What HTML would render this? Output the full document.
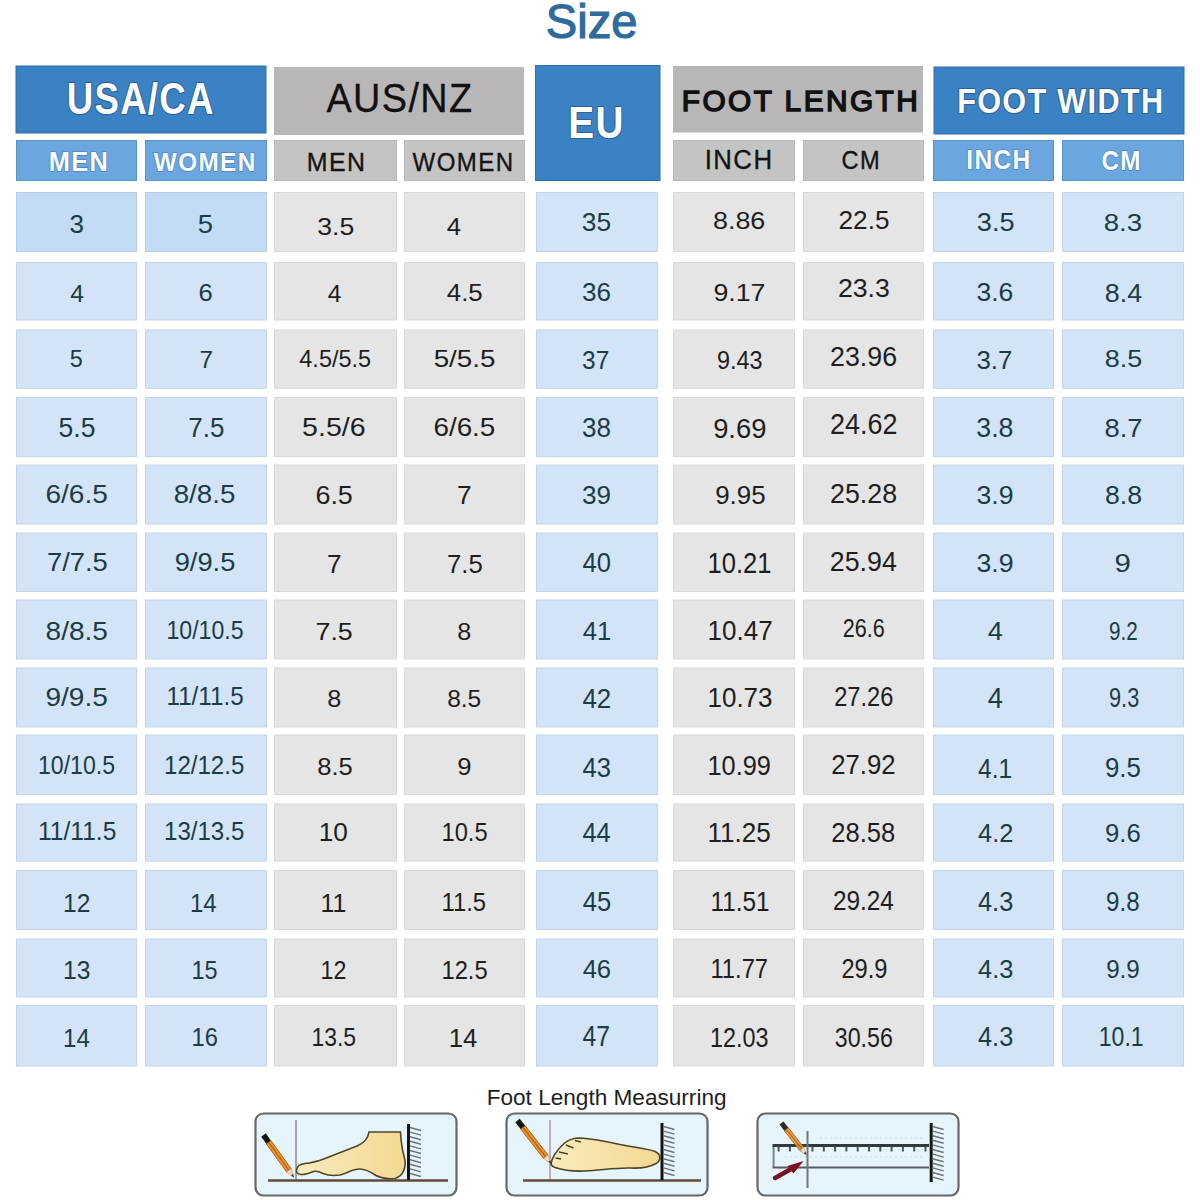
<!DOCTYPE html>
<html><head><meta charset="utf-8"><title>Size chart</title><style>
html,body{margin:0;padding:0;background:#fff;}
body{width:1200px;height:1200px;overflow:hidden;}
svg{display:block;font-family:"Liberation Sans", sans-serif;}
</style></head><body>
<svg width="1200" height="1200" viewBox="0 0 1200 1200">
<rect x="16" y="66" width="250.00" height="67.00" fill="#3b82c4" stroke="#306fa8" stroke-width="1"/>
<rect x="274" y="67" width="250.00" height="68.00" fill="#b8b6b7"/>
<rect x="535.5" y="65.5" width="124.50" height="115.00" fill="#3b82c4" stroke="#306fa8" stroke-width="1"/>
<rect x="673" y="66" width="250.00" height="66.50" fill="#b8b6b7"/>
<rect x="934" y="67" width="250.00" height="67.00" fill="#3b82c4" stroke="#306fa8" stroke-width="1"/>
<rect x="16.5" y="140.5" width="120.00" height="40" fill="#6aa6df" stroke="#5d92c6" stroke-width="1"/>
<rect x="145.5" y="140.5" width="121.00" height="40" fill="#6aa6df" stroke="#5d92c6" stroke-width="1"/>
<rect x="274.5" y="140.5" width="122.00" height="40" fill="#c4c4c4" stroke="#b8b8b8" stroke-width="1"/>
<rect x="404.5" y="140.5" width="120.00" height="40" fill="#c4c4c4" stroke="#b8b8b8" stroke-width="1"/>
<rect x="673.5" y="140.5" width="121.00" height="40" fill="#c4c4c4" stroke="#b8b8b8" stroke-width="1"/>
<rect x="803.5" y="140.5" width="120.00" height="40" fill="#c4c4c4" stroke="#b8b8b8" stroke-width="1"/>
<rect x="933.5" y="140.5" width="120.00" height="40" fill="#6aa6df" stroke="#5d92c6" stroke-width="1"/>
<rect x="1062.5" y="140.5" width="121.00" height="40" fill="#6aa6df" stroke="#5d92c6" stroke-width="1"/>
<rect x="16.5" y="192.5" width="120.00" height="59.00" fill="#c3dcf5" stroke="#b9cde2" stroke-width="1"/>
<rect x="145.5" y="192.5" width="121.00" height="59.00" fill="#c3dcf5" stroke="#b9cde2" stroke-width="1"/>
<rect x="274.5" y="192.5" width="122.00" height="59.00" fill="#e5e5e5" stroke="#d9d9d9" stroke-width="1"/>
<rect x="404.5" y="192.5" width="120.00" height="59.00" fill="#e5e5e5" stroke="#d9d9d9" stroke-width="1"/>
<rect x="536.5" y="192.5" width="121.00" height="59.00" fill="#d4e4f8" stroke="#c3d4e6" stroke-width="1"/>
<rect x="673.5" y="192.5" width="121.00" height="59.00" fill="#e5e5e5" stroke="#d9d9d9" stroke-width="1"/>
<rect x="803.5" y="192.5" width="120.00" height="59.00" fill="#e5e5e5" stroke="#d9d9d9" stroke-width="1"/>
<rect x="933.5" y="192.5" width="120.00" height="59.00" fill="#d4e4f8" stroke="#c3d4e6" stroke-width="1"/>
<rect x="1062.5" y="192.5" width="121.00" height="59.00" fill="#d4e4f8" stroke="#c3d4e6" stroke-width="1"/>
<rect x="16.5" y="262.5" width="120.00" height="57.50" fill="#d4e4f8" stroke="#c3d4e6" stroke-width="1"/>
<rect x="145.5" y="262.5" width="121.00" height="57.50" fill="#d4e4f8" stroke="#c3d4e6" stroke-width="1"/>
<rect x="274.5" y="262.5" width="122.00" height="57.50" fill="#e5e5e5" stroke="#d9d9d9" stroke-width="1"/>
<rect x="404.5" y="262.5" width="120.00" height="57.50" fill="#e5e5e5" stroke="#d9d9d9" stroke-width="1"/>
<rect x="536.5" y="262.5" width="121.00" height="57.50" fill="#d4e4f8" stroke="#c3d4e6" stroke-width="1"/>
<rect x="673.5" y="262.5" width="121.00" height="57.50" fill="#e5e5e5" stroke="#d9d9d9" stroke-width="1"/>
<rect x="803.5" y="262.5" width="120.00" height="57.50" fill="#e5e5e5" stroke="#d9d9d9" stroke-width="1"/>
<rect x="933.5" y="262.5" width="120.00" height="57.50" fill="#d4e4f8" stroke="#c3d4e6" stroke-width="1"/>
<rect x="1062.5" y="262.5" width="121.00" height="57.50" fill="#d4e4f8" stroke="#c3d4e6" stroke-width="1"/>
<rect x="16.5" y="330.0" width="120.00" height="58.25" fill="#d4e4f8" stroke="#c3d4e6" stroke-width="1"/>
<rect x="145.5" y="330.0" width="121.00" height="58.25" fill="#d4e4f8" stroke="#c3d4e6" stroke-width="1"/>
<rect x="274.5" y="330.0" width="122.00" height="58.25" fill="#e5e5e5" stroke="#d9d9d9" stroke-width="1"/>
<rect x="404.5" y="330.0" width="120.00" height="58.25" fill="#e5e5e5" stroke="#d9d9d9" stroke-width="1"/>
<rect x="536.5" y="330.0" width="121.00" height="58.25" fill="#d4e4f8" stroke="#c3d4e6" stroke-width="1"/>
<rect x="673.5" y="330.0" width="121.00" height="58.25" fill="#e5e5e5" stroke="#d9d9d9" stroke-width="1"/>
<rect x="803.5" y="330.0" width="120.00" height="58.25" fill="#e5e5e5" stroke="#d9d9d9" stroke-width="1"/>
<rect x="933.5" y="330.0" width="120.00" height="58.25" fill="#d4e4f8" stroke="#c3d4e6" stroke-width="1"/>
<rect x="1062.5" y="330.0" width="121.00" height="58.25" fill="#d4e4f8" stroke="#c3d4e6" stroke-width="1"/>
<rect x="16.5" y="397.5" width="120.00" height="59.00" fill="#d4e4f8" stroke="#c3d4e6" stroke-width="1"/>
<rect x="145.5" y="397.5" width="121.00" height="59.00" fill="#d4e4f8" stroke="#c3d4e6" stroke-width="1"/>
<rect x="274.5" y="397.5" width="122.00" height="59.00" fill="#e5e5e5" stroke="#d9d9d9" stroke-width="1"/>
<rect x="404.5" y="397.5" width="120.00" height="59.00" fill="#e5e5e5" stroke="#d9d9d9" stroke-width="1"/>
<rect x="536.5" y="397.5" width="121.00" height="59.00" fill="#d4e4f8" stroke="#c3d4e6" stroke-width="1"/>
<rect x="673.5" y="397.5" width="121.00" height="59.00" fill="#e5e5e5" stroke="#d9d9d9" stroke-width="1"/>
<rect x="803.5" y="397.5" width="120.00" height="59.00" fill="#e5e5e5" stroke="#d9d9d9" stroke-width="1"/>
<rect x="933.5" y="397.5" width="120.00" height="59.00" fill="#d4e4f8" stroke="#c3d4e6" stroke-width="1"/>
<rect x="1062.5" y="397.5" width="121.00" height="59.00" fill="#d4e4f8" stroke="#c3d4e6" stroke-width="1"/>
<rect x="16.5" y="465.0" width="120.00" height="59.00" fill="#d4e4f8" stroke="#c3d4e6" stroke-width="1"/>
<rect x="145.5" y="465.0" width="121.00" height="59.00" fill="#d4e4f8" stroke="#c3d4e6" stroke-width="1"/>
<rect x="274.5" y="465.0" width="122.00" height="59.00" fill="#e5e5e5" stroke="#d9d9d9" stroke-width="1"/>
<rect x="404.5" y="465.0" width="120.00" height="59.00" fill="#e5e5e5" stroke="#d9d9d9" stroke-width="1"/>
<rect x="536.5" y="465.0" width="121.00" height="59.00" fill="#d4e4f8" stroke="#c3d4e6" stroke-width="1"/>
<rect x="673.5" y="465.0" width="121.00" height="59.00" fill="#e5e5e5" stroke="#d9d9d9" stroke-width="1"/>
<rect x="803.5" y="465.0" width="120.00" height="59.00" fill="#e5e5e5" stroke="#d9d9d9" stroke-width="1"/>
<rect x="933.5" y="465.0" width="120.00" height="59.00" fill="#d4e4f8" stroke="#c3d4e6" stroke-width="1"/>
<rect x="1062.5" y="465.0" width="121.00" height="59.00" fill="#d4e4f8" stroke="#c3d4e6" stroke-width="1"/>
<rect x="16.5" y="533.0" width="120.00" height="58.50" fill="#d4e4f8" stroke="#c3d4e6" stroke-width="1"/>
<rect x="145.5" y="533.0" width="121.00" height="58.50" fill="#d4e4f8" stroke="#c3d4e6" stroke-width="1"/>
<rect x="274.5" y="533.0" width="122.00" height="58.50" fill="#e5e5e5" stroke="#d9d9d9" stroke-width="1"/>
<rect x="404.5" y="533.0" width="120.00" height="58.50" fill="#e5e5e5" stroke="#d9d9d9" stroke-width="1"/>
<rect x="536.5" y="533.0" width="121.00" height="58.50" fill="#d4e4f8" stroke="#c3d4e6" stroke-width="1"/>
<rect x="673.5" y="533.0" width="121.00" height="58.50" fill="#e5e5e5" stroke="#d9d9d9" stroke-width="1"/>
<rect x="803.5" y="533.0" width="120.00" height="58.50" fill="#e5e5e5" stroke="#d9d9d9" stroke-width="1"/>
<rect x="933.5" y="533.0" width="120.00" height="58.50" fill="#d4e4f8" stroke="#c3d4e6" stroke-width="1"/>
<rect x="1062.5" y="533.0" width="121.00" height="58.50" fill="#d4e4f8" stroke="#c3d4e6" stroke-width="1"/>
<rect x="16.5" y="600.0" width="120.00" height="59.00" fill="#d4e4f8" stroke="#c3d4e6" stroke-width="1"/>
<rect x="145.5" y="600.0" width="121.00" height="59.00" fill="#d4e4f8" stroke="#c3d4e6" stroke-width="1"/>
<rect x="274.5" y="600.0" width="122.00" height="59.00" fill="#e5e5e5" stroke="#d9d9d9" stroke-width="1"/>
<rect x="404.5" y="600.0" width="120.00" height="59.00" fill="#e5e5e5" stroke="#d9d9d9" stroke-width="1"/>
<rect x="536.5" y="600.0" width="121.00" height="59.00" fill="#d4e4f8" stroke="#c3d4e6" stroke-width="1"/>
<rect x="673.5" y="600.0" width="121.00" height="59.00" fill="#e5e5e5" stroke="#d9d9d9" stroke-width="1"/>
<rect x="803.5" y="600.0" width="120.00" height="59.00" fill="#e5e5e5" stroke="#d9d9d9" stroke-width="1"/>
<rect x="933.5" y="600.0" width="120.00" height="59.00" fill="#d4e4f8" stroke="#c3d4e6" stroke-width="1"/>
<rect x="1062.5" y="600.0" width="121.00" height="59.00" fill="#d4e4f8" stroke="#c3d4e6" stroke-width="1"/>
<rect x="16.5" y="668.0" width="120.00" height="59.00" fill="#d4e4f8" stroke="#c3d4e6" stroke-width="1"/>
<rect x="145.5" y="668.0" width="121.00" height="59.00" fill="#d4e4f8" stroke="#c3d4e6" stroke-width="1"/>
<rect x="274.5" y="668.0" width="122.00" height="59.00" fill="#e5e5e5" stroke="#d9d9d9" stroke-width="1"/>
<rect x="404.5" y="668.0" width="120.00" height="59.00" fill="#e5e5e5" stroke="#d9d9d9" stroke-width="1"/>
<rect x="536.5" y="668.0" width="121.00" height="59.00" fill="#d4e4f8" stroke="#c3d4e6" stroke-width="1"/>
<rect x="673.5" y="668.0" width="121.00" height="59.00" fill="#e5e5e5" stroke="#d9d9d9" stroke-width="1"/>
<rect x="803.5" y="668.0" width="120.00" height="59.00" fill="#e5e5e5" stroke="#d9d9d9" stroke-width="1"/>
<rect x="933.5" y="668.0" width="120.00" height="59.00" fill="#d4e4f8" stroke="#c3d4e6" stroke-width="1"/>
<rect x="1062.5" y="668.0" width="121.00" height="59.00" fill="#d4e4f8" stroke="#c3d4e6" stroke-width="1"/>
<rect x="16.5" y="735.0" width="120.00" height="59.50" fill="#d4e4f8" stroke="#c3d4e6" stroke-width="1"/>
<rect x="145.5" y="735.0" width="121.00" height="59.50" fill="#d4e4f8" stroke="#c3d4e6" stroke-width="1"/>
<rect x="274.5" y="735.0" width="122.00" height="59.50" fill="#e5e5e5" stroke="#d9d9d9" stroke-width="1"/>
<rect x="404.5" y="735.0" width="120.00" height="59.50" fill="#e5e5e5" stroke="#d9d9d9" stroke-width="1"/>
<rect x="536.5" y="735.0" width="121.00" height="59.50" fill="#d4e4f8" stroke="#c3d4e6" stroke-width="1"/>
<rect x="673.5" y="735.0" width="121.00" height="59.50" fill="#e5e5e5" stroke="#d9d9d9" stroke-width="1"/>
<rect x="803.5" y="735.0" width="120.00" height="59.50" fill="#e5e5e5" stroke="#d9d9d9" stroke-width="1"/>
<rect x="933.5" y="735.0" width="120.00" height="59.50" fill="#d4e4f8" stroke="#c3d4e6" stroke-width="1"/>
<rect x="1062.5" y="735.0" width="121.00" height="59.50" fill="#d4e4f8" stroke="#c3d4e6" stroke-width="1"/>
<rect x="16.5" y="804.0" width="120.00" height="57.10" fill="#d4e4f8" stroke="#c3d4e6" stroke-width="1"/>
<rect x="145.5" y="804.0" width="121.00" height="57.10" fill="#d4e4f8" stroke="#c3d4e6" stroke-width="1"/>
<rect x="274.5" y="804.0" width="122.00" height="57.10" fill="#e5e5e5" stroke="#d9d9d9" stroke-width="1"/>
<rect x="404.5" y="804.0" width="120.00" height="57.10" fill="#e5e5e5" stroke="#d9d9d9" stroke-width="1"/>
<rect x="536.5" y="804.0" width="121.00" height="57.10" fill="#d4e4f8" stroke="#c3d4e6" stroke-width="1"/>
<rect x="673.5" y="804.0" width="121.00" height="57.10" fill="#e5e5e5" stroke="#d9d9d9" stroke-width="1"/>
<rect x="803.5" y="804.0" width="120.00" height="57.10" fill="#e5e5e5" stroke="#d9d9d9" stroke-width="1"/>
<rect x="933.5" y="804.0" width="120.00" height="57.10" fill="#d4e4f8" stroke="#c3d4e6" stroke-width="1"/>
<rect x="1062.5" y="804.0" width="121.00" height="57.10" fill="#d4e4f8" stroke="#c3d4e6" stroke-width="1"/>
<rect x="16.5" y="870.5" width="120.00" height="59.00" fill="#d4e4f8" stroke="#c3d4e6" stroke-width="1"/>
<rect x="145.5" y="870.5" width="121.00" height="59.00" fill="#d4e4f8" stroke="#c3d4e6" stroke-width="1"/>
<rect x="274.5" y="870.5" width="122.00" height="59.00" fill="#e5e5e5" stroke="#d9d9d9" stroke-width="1"/>
<rect x="404.5" y="870.5" width="120.00" height="59.00" fill="#e5e5e5" stroke="#d9d9d9" stroke-width="1"/>
<rect x="536.5" y="870.5" width="121.00" height="59.00" fill="#d4e4f8" stroke="#c3d4e6" stroke-width="1"/>
<rect x="673.5" y="870.5" width="121.00" height="59.00" fill="#e5e5e5" stroke="#d9d9d9" stroke-width="1"/>
<rect x="803.5" y="870.5" width="120.00" height="59.00" fill="#e5e5e5" stroke="#d9d9d9" stroke-width="1"/>
<rect x="933.5" y="870.5" width="120.00" height="59.00" fill="#d4e4f8" stroke="#c3d4e6" stroke-width="1"/>
<rect x="1062.5" y="870.5" width="121.00" height="59.00" fill="#d4e4f8" stroke="#c3d4e6" stroke-width="1"/>
<rect x="16.5" y="939.0" width="120.00" height="58.00" fill="#d4e4f8" stroke="#c3d4e6" stroke-width="1"/>
<rect x="145.5" y="939.0" width="121.00" height="58.00" fill="#d4e4f8" stroke="#c3d4e6" stroke-width="1"/>
<rect x="274.5" y="939.0" width="122.00" height="58.00" fill="#e5e5e5" stroke="#d9d9d9" stroke-width="1"/>
<rect x="404.5" y="939.0" width="120.00" height="58.00" fill="#e5e5e5" stroke="#d9d9d9" stroke-width="1"/>
<rect x="536.5" y="939.0" width="121.00" height="58.00" fill="#d4e4f8" stroke="#c3d4e6" stroke-width="1"/>
<rect x="673.5" y="939.0" width="121.00" height="58.00" fill="#e5e5e5" stroke="#d9d9d9" stroke-width="1"/>
<rect x="803.5" y="939.0" width="120.00" height="58.00" fill="#e5e5e5" stroke="#d9d9d9" stroke-width="1"/>
<rect x="933.5" y="939.0" width="120.00" height="58.00" fill="#d4e4f8" stroke="#c3d4e6" stroke-width="1"/>
<rect x="1062.5" y="939.0" width="121.00" height="58.00" fill="#d4e4f8" stroke="#c3d4e6" stroke-width="1"/>
<rect x="16.5" y="1005.5" width="120.00" height="60.50" fill="#d4e4f8" stroke="#c3d4e6" stroke-width="1"/>
<rect x="145.5" y="1005.5" width="121.00" height="60.50" fill="#d4e4f8" stroke="#c3d4e6" stroke-width="1"/>
<rect x="274.5" y="1005.5" width="122.00" height="60.50" fill="#e5e5e5" stroke="#d9d9d9" stroke-width="1"/>
<rect x="404.5" y="1005.5" width="120.00" height="60.50" fill="#e5e5e5" stroke="#d9d9d9" stroke-width="1"/>
<rect x="536.5" y="1005.5" width="121.00" height="60.50" fill="#d4e4f8" stroke="#c3d4e6" stroke-width="1"/>
<rect x="673.5" y="1005.5" width="121.00" height="60.50" fill="#e5e5e5" stroke="#d9d9d9" stroke-width="1"/>
<rect x="803.5" y="1005.5" width="120.00" height="60.50" fill="#e5e5e5" stroke="#d9d9d9" stroke-width="1"/>
<rect x="933.5" y="1005.5" width="120.00" height="60.50" fill="#d4e4f8" stroke="#c3d4e6" stroke-width="1"/>
<rect x="1062.5" y="1005.5" width="121.00" height="60.50" fill="#d4e4f8" stroke="#c3d4e6" stroke-width="1"/>
<text x="591.58" y="38.1" font-size="48.2" fill="#2f6b9e" font-weight="normal" text-anchor="middle" textLength="91.66" lengthAdjust="spacingAndGlyphs" stroke="#2f6b9e" stroke-width="1.2">Size</text>
<text x="140.74" y="114.35" font-size="44.8" fill="#fbfdff" font-weight="bold" text-anchor="middle" textLength="147.88" lengthAdjust="spacingAndGlyphs" letter-spacing="1.5" stroke="#2c6194" stroke-width="2.2" paint-order="stroke" stroke-linejoin="round">USA/CA</text>
<text x="400.02" y="112.26" font-size="40.3" fill="#111111" font-weight="normal" text-anchor="middle" textLength="147.12" lengthAdjust="spacingAndGlyphs" letter-spacing="1.5" stroke="#111111" stroke-width="0.3">AUS/NZ</text>
<text x="596.58" y="138.34" font-size="43.98" fill="#fbfdff" font-weight="bold" text-anchor="middle" textLength="56.46" lengthAdjust="spacingAndGlyphs" letter-spacing="1.5" stroke="#2c6194" stroke-width="2.2" paint-order="stroke" stroke-linejoin="round">EU</text>
<text x="801.04" y="111.26" font-size="30.02" fill="#111111" font-weight="normal" text-anchor="middle" textLength="238.45" lengthAdjust="spacingAndGlyphs" letter-spacing="2.5" stroke="#111111" stroke-width="1.5">FOOT LENGTH</text>
<text x="1060.77" y="112.95" font-size="35.36" fill="#fbfdff" font-weight="bold" text-anchor="middle" textLength="207.16" lengthAdjust="spacingAndGlyphs" letter-spacing="1.5" stroke="#2c6194" stroke-width="2.2" paint-order="stroke" stroke-linejoin="round">FOOT WIDTH</text>
<text x="79.02" y="171.35" font-size="27.36" fill="#fbfdff" font-weight="bold" text-anchor="middle" textLength="60.51" lengthAdjust="spacingAndGlyphs" letter-spacing="1.5" stroke="#4f88c0" stroke-width="1.6" paint-order="stroke" stroke-linejoin="round">MEN</text>
<text x="205.22" y="171.1" font-size="26.64" fill="#fbfdff" font-weight="bold" text-anchor="middle" textLength="102.86" lengthAdjust="spacingAndGlyphs" letter-spacing="1.5" stroke="#4f88c0" stroke-width="1.6" paint-order="stroke" stroke-linejoin="round">WOMEN</text>
<text x="336.62" y="170.75" font-size="26.26" fill="#141414" font-weight="normal" text-anchor="middle" textLength="59.57" lengthAdjust="spacingAndGlyphs" letter-spacing="1.5" stroke="#141414" stroke-width="0.35">MEN</text>
<text x="463.53" y="170.5" font-size="25.57" fill="#141414" font-weight="normal" text-anchor="middle" textLength="101.86" lengthAdjust="spacingAndGlyphs" letter-spacing="1.5" stroke="#141414" stroke-width="0.35">WOMEN</text>
<text x="739.08" y="169.0" font-size="27.0" fill="#141414" font-weight="normal" text-anchor="middle" textLength="68.68" lengthAdjust="spacingAndGlyphs" letter-spacing="1.5" stroke="#141414" stroke-width="0.35">INCH</text>
<text x="861.26" y="169.0" font-size="25.18" fill="#141414" font-weight="normal" text-anchor="middle" textLength="39.64" lengthAdjust="spacingAndGlyphs" letter-spacing="1.5" stroke="#141414" stroke-width="0.35">CM</text>
<text x="999.0" y="169.25" font-size="27.69" fill="#fbfdff" font-weight="bold" text-anchor="middle" textLength="65.43" lengthAdjust="spacingAndGlyphs" letter-spacing="1.5" stroke="#4f88c0" stroke-width="1.6" paint-order="stroke" stroke-linejoin="round">INCH</text>
<text x="1121.73" y="170.45" font-size="27.34" fill="#fbfdff" font-weight="bold" text-anchor="middle" textLength="40.34" lengthAdjust="spacingAndGlyphs" letter-spacing="1.5" stroke="#4f88c0" stroke-width="1.6" paint-order="stroke" stroke-linejoin="round">CM</text>
<text x="76.62" y="232.95" font-size="26.12" fill="#1a3c45" font-weight="normal" text-anchor="middle" textLength="14.48" lengthAdjust="spacingAndGlyphs">3</text>
<text x="205.51" y="233.0" font-size="26.68" fill="#1a3c45" font-weight="normal" text-anchor="middle" textLength="15.26" lengthAdjust="spacingAndGlyphs">5</text>
<text x="335.72" y="234.95" font-size="23.58" fill="#1e1e1e" font-weight="normal" text-anchor="middle" textLength="37.01" lengthAdjust="spacingAndGlyphs">3.5</text>
<text x="453.84" y="235.2" font-size="24.32" fill="#1e1e1e" font-weight="normal" text-anchor="middle" textLength="14.36" lengthAdjust="spacingAndGlyphs">4</text>
<text x="596.5" y="231.3" font-size="26.36" fill="#1a3c45" font-weight="normal" text-anchor="middle" textLength="29.33" lengthAdjust="spacingAndGlyphs">35</text>
<text x="739.14" y="228.8" font-size="24.55" fill="#1e1e1e" font-weight="normal" text-anchor="middle" textLength="52.39" lengthAdjust="spacingAndGlyphs">8.86</text>
<text x="864.0" y="229.3" font-size="25.18" fill="#1e1e1e" font-weight="normal" text-anchor="middle" textLength="50.87" lengthAdjust="spacingAndGlyphs">22.5</text>
<text x="995.7" y="230.71" font-size="25.18" fill="#1a3c45" font-weight="normal" text-anchor="middle" textLength="37.77" lengthAdjust="spacingAndGlyphs">3.5</text>
<text x="1122.93" y="231.3" font-size="24.55" fill="#1a3c45" font-weight="normal" text-anchor="middle" textLength="38.42" lengthAdjust="spacingAndGlyphs">8.3</text>
<text x="77.12" y="301.7" font-size="24.32" fill="#1a3c45" font-weight="normal" text-anchor="middle" textLength="13.76" lengthAdjust="spacingAndGlyphs">4</text>
<text x="205.64" y="301.45" font-size="23.58" fill="#1a3c45" font-weight="normal" text-anchor="middle" textLength="14.26" lengthAdjust="spacingAndGlyphs">6</text>
<text x="334.46" y="301.7" font-size="24.32" fill="#1e1e1e" font-weight="normal" text-anchor="middle" textLength="13.61" lengthAdjust="spacingAndGlyphs">4</text>
<text x="464.75" y="301.45" font-size="23.95" fill="#1e1e1e" font-weight="normal" text-anchor="middle" textLength="36.01" lengthAdjust="spacingAndGlyphs">4.5</text>
<text x="596.62" y="301.25" font-size="25.76" fill="#1a3c45" font-weight="normal" text-anchor="middle" textLength="29.01" lengthAdjust="spacingAndGlyphs">36</text>
<text x="739.46" y="301.25" font-size="24.0" fill="#1e1e1e" font-weight="normal" text-anchor="middle" textLength="52.04" lengthAdjust="spacingAndGlyphs">9.17</text>
<text x="863.88" y="296.75" font-size="25.64" fill="#1e1e1e" font-weight="normal" text-anchor="middle" textLength="51.92" lengthAdjust="spacingAndGlyphs">23.3</text>
<text x="994.88" y="301.25" font-size="25.76" fill="#1a3c45" font-weight="normal" text-anchor="middle" textLength="36.86" lengthAdjust="spacingAndGlyphs">3.6</text>
<text x="1123.42" y="301.8" font-size="25.18" fill="#1a3c45" font-weight="normal" text-anchor="middle" textLength="37.39" lengthAdjust="spacingAndGlyphs">8.4</text>
<text x="76.26" y="367.45" font-size="23.95" fill="#1a3c45" font-weight="normal" text-anchor="middle" textLength="13.01" lengthAdjust="spacingAndGlyphs">5</text>
<text x="206.26" y="367.7" font-size="24.32" fill="#1a3c45" font-weight="normal" text-anchor="middle" textLength="13.51" lengthAdjust="spacingAndGlyphs">7</text>
<text x="335.2" y="367.45" font-size="24.3" fill="#1e1e1e" font-weight="normal" text-anchor="middle" textLength="71.73" lengthAdjust="spacingAndGlyphs">4.5/5.5</text>
<text x="464.5" y="367.45" font-size="24.3" fill="#1e1e1e" font-weight="normal" text-anchor="middle" textLength="61.63" lengthAdjust="spacingAndGlyphs">5/5.5</text>
<text x="595.72" y="368.6" font-size="25.76" fill="#1a3c45" font-weight="normal" text-anchor="middle" textLength="27.21" lengthAdjust="spacingAndGlyphs">37</text>
<text x="739.8" y="368.6" font-size="25.41" fill="#1e1e1e" font-weight="normal" text-anchor="middle" textLength="45.61" lengthAdjust="spacingAndGlyphs">9.43</text>
<text x="863.57" y="365.65" font-size="27.41" fill="#1e1e1e" font-weight="normal" text-anchor="middle" textLength="67.0" lengthAdjust="spacingAndGlyphs">23.96</text>
<text x="994.45" y="368.6" font-size="25.76" fill="#1a3c45" font-weight="normal" text-anchor="middle" textLength="35.96" lengthAdjust="spacingAndGlyphs">3.7</text>
<text x="1123.5" y="367.3" font-size="24.08" fill="#1a3c45" font-weight="normal" text-anchor="middle" textLength="37.46" lengthAdjust="spacingAndGlyphs">8.5</text>
<text x="77.0" y="437.45" font-size="27.75" fill="#1a3c45" font-weight="normal" text-anchor="middle" textLength="36.8" lengthAdjust="spacingAndGlyphs">5.5</text>
<text x="206.38" y="437.45" font-size="27.75" fill="#1a3c45" font-weight="normal" text-anchor="middle" textLength="36.05" lengthAdjust="spacingAndGlyphs">7.5</text>
<text x="333.84" y="436.45" font-size="24.92" fill="#1e1e1e" font-weight="normal" text-anchor="middle" textLength="63.44" lengthAdjust="spacingAndGlyphs">5.5/6</text>
<text x="464.38" y="436.45" font-size="24.92" fill="#1e1e1e" font-weight="normal" text-anchor="middle" textLength="61.94" lengthAdjust="spacingAndGlyphs">6/6.5</text>
<text x="596.5" y="437.25" font-size="28.16" fill="#1a3c45" font-weight="normal" text-anchor="middle" textLength="28.96" lengthAdjust="spacingAndGlyphs">38</text>
<text x="739.76" y="437.8" font-size="28.51" fill="#1e1e1e" font-weight="normal" text-anchor="middle" textLength="53.26" lengthAdjust="spacingAndGlyphs">9.69</text>
<text x="863.74" y="433.65" font-size="28.94" fill="#1e1e1e" font-weight="normal" text-anchor="middle" textLength="67.38" lengthAdjust="spacingAndGlyphs">24.62</text>
<text x="994.9" y="437.25" font-size="28.16" fill="#1a3c45" font-weight="normal" text-anchor="middle" textLength="37.06" lengthAdjust="spacingAndGlyphs">3.8</text>
<text x="1123.49" y="436.8" font-size="25.18" fill="#1a3c45" font-weight="normal" text-anchor="middle" textLength="38.04" lengthAdjust="spacingAndGlyphs">8.7</text>
<text x="76.64" y="502.95" font-size="24.92" fill="#1a3c45" font-weight="normal" text-anchor="middle" textLength="62.44" lengthAdjust="spacingAndGlyphs">6/6.5</text>
<text x="204.5" y="502.95" font-size="24.92" fill="#1a3c45" font-weight="normal" text-anchor="middle" textLength="61.69" lengthAdjust="spacingAndGlyphs">8/8.5</text>
<text x="334.14" y="503.95" font-size="25.83" fill="#1e1e1e" font-weight="normal" text-anchor="middle" textLength="37.44" lengthAdjust="spacingAndGlyphs">6.5</text>
<text x="464.22" y="504.2" font-size="26.52" fill="#1e1e1e" font-weight="normal" text-anchor="middle" textLength="14.69" lengthAdjust="spacingAndGlyphs">7</text>
<text x="596.62" y="504.15" font-size="25.76" fill="#1a3c45" font-weight="normal" text-anchor="middle" textLength="29.01" lengthAdjust="spacingAndGlyphs">39</text>
<text x="740.44" y="504.15" font-size="25.41" fill="#1e1e1e" font-weight="normal" text-anchor="middle" textLength="50.51" lengthAdjust="spacingAndGlyphs">9.95</text>
<text x="863.56" y="503.25" font-size="27.81" fill="#1e1e1e" font-weight="normal" text-anchor="middle" textLength="67.06" lengthAdjust="spacingAndGlyphs">25.28</text>
<text x="995.0" y="504.15" font-size="25.76" fill="#1a3c45" font-weight="normal" text-anchor="middle" textLength="37.11" lengthAdjust="spacingAndGlyphs">3.9</text>
<text x="1123.5" y="504.15" font-size="25.76" fill="#1a3c45" font-weight="normal" text-anchor="middle" textLength="36.96" lengthAdjust="spacingAndGlyphs">8.8</text>
<text x="77.38" y="571.45" font-size="24.92" fill="#1a3c45" font-weight="normal" text-anchor="middle" textLength="60.94" lengthAdjust="spacingAndGlyphs">7/7.5</text>
<text x="205.0" y="571.45" font-size="24.92" fill="#1a3c45" font-weight="normal" text-anchor="middle" textLength="60.69" lengthAdjust="spacingAndGlyphs">9/9.5</text>
<text x="334.22" y="573.2" font-size="25.28" fill="#1e1e1e" font-weight="normal" text-anchor="middle" textLength="14.57" lengthAdjust="spacingAndGlyphs">7</text>
<text x="464.88" y="572.95" font-size="24.91" fill="#1e1e1e" font-weight="normal" text-anchor="middle" textLength="35.82" lengthAdjust="spacingAndGlyphs">7.5</text>
<text x="596.7" y="572.15" font-size="27.13" fill="#1a3c45" font-weight="normal" text-anchor="middle" textLength="28.49" lengthAdjust="spacingAndGlyphs">40</text>
<text x="739.56" y="573.49" font-size="28.99" fill="#1e1e1e" font-weight="normal" text-anchor="middle" textLength="63.94" lengthAdjust="spacingAndGlyphs">10.21</text>
<text x="863.34" y="570.6" font-size="27.13" fill="#1e1e1e" font-weight="normal" text-anchor="middle" textLength="66.99" lengthAdjust="spacingAndGlyphs">25.94</text>
<text x="995.0" y="572.15" font-size="25.76" fill="#1a3c45" font-weight="normal" text-anchor="middle" textLength="37.11" lengthAdjust="spacingAndGlyphs">3.9</text>
<text x="1122.64" y="572.15" font-size="25.76" fill="#1a3c45" font-weight="normal" text-anchor="middle" textLength="16.36" lengthAdjust="spacingAndGlyphs">9</text>
<text x="76.78" y="639.95" font-size="26.14" fill="#1a3c45" font-weight="normal" text-anchor="middle" textLength="62.3" lengthAdjust="spacingAndGlyphs">8/8.5</text>
<text x="205.05" y="638.95" font-size="24.92" fill="#1a3c45" font-weight="normal" text-anchor="middle" textLength="77.09" lengthAdjust="spacingAndGlyphs">10/10.5</text>
<text x="334.14" y="639.95" font-size="23.95" fill="#1e1e1e" font-weight="normal" text-anchor="middle" textLength="37.26" lengthAdjust="spacingAndGlyphs">7.5</text>
<text x="464.22" y="639.95" font-size="23.58" fill="#1e1e1e" font-weight="normal" text-anchor="middle" textLength="14.01" lengthAdjust="spacingAndGlyphs">8</text>
<text x="596.88" y="639.5" font-size="26.11" fill="#1a3c45" font-weight="normal" text-anchor="middle" textLength="28.51" lengthAdjust="spacingAndGlyphs">41</text>
<text x="740.13" y="640.15" font-size="27.13" fill="#1e1e1e" font-weight="normal" text-anchor="middle" textLength="65.19" lengthAdjust="spacingAndGlyphs">10.47</text>
<text x="863.68" y="637.45" font-size="25.41" fill="#1e1e1e" font-weight="normal" text-anchor="middle" textLength="42.01" lengthAdjust="spacingAndGlyphs">26.6</text>
<text x="995.18" y="640.4" font-size="26.11" fill="#1a3c45" font-weight="normal" text-anchor="middle" textLength="15.11" lengthAdjust="spacingAndGlyphs">4</text>
<text x="1123.5" y="640.15" font-size="25.76" fill="#1a3c45" font-weight="normal" text-anchor="middle" textLength="28.76" lengthAdjust="spacingAndGlyphs">9.2</text>
<text x="76.64" y="706.45" font-size="24.92" fill="#1a3c45" font-weight="normal" text-anchor="middle" textLength="62.44" lengthAdjust="spacingAndGlyphs">9/9.5</text>
<text x="205.05" y="704.95" font-size="24.92" fill="#1a3c45" font-weight="normal" text-anchor="middle" textLength="77.09" lengthAdjust="spacingAndGlyphs">11/11.5</text>
<text x="334.22" y="706.95" font-size="24.54" fill="#1e1e1e" font-weight="normal" text-anchor="middle" textLength="14.07" lengthAdjust="spacingAndGlyphs">8</text>
<text x="464.22" y="706.95" font-size="24.54" fill="#1e1e1e" font-weight="normal" text-anchor="middle" textLength="34.07" lengthAdjust="spacingAndGlyphs">8.5</text>
<text x="596.84" y="707.5" font-size="28.5" fill="#1a3c45" font-weight="normal" text-anchor="middle" textLength="28.81" lengthAdjust="spacingAndGlyphs">42</text>
<text x="740.01" y="707.25" font-size="27.81" fill="#1e1e1e" font-weight="normal" text-anchor="middle" textLength="65.01" lengthAdjust="spacingAndGlyphs">10.73</text>
<text x="863.73" y="705.95" font-size="28.26" fill="#1e1e1e" font-weight="normal" text-anchor="middle" textLength="59.14" lengthAdjust="spacingAndGlyphs">27.26</text>
<text x="995.3" y="707.5" font-size="28.85" fill="#1a3c45" font-weight="normal" text-anchor="middle" textLength="15.16" lengthAdjust="spacingAndGlyphs">4</text>
<text x="1124.14" y="707.25" font-size="28.16" fill="#1a3c45" font-weight="normal" text-anchor="middle" textLength="30.16" lengthAdjust="spacingAndGlyphs">9.3</text>
<text x="76.55" y="773.95" font-size="24.92" fill="#1a3c45" font-weight="normal" text-anchor="middle" textLength="77.09" lengthAdjust="spacingAndGlyphs">10/10.5</text>
<text x="204.18" y="773.95" font-size="24.92" fill="#1a3c45" font-weight="normal" text-anchor="middle" textLength="80.34" lengthAdjust="spacingAndGlyphs">12/12.5</text>
<text x="335.0" y="774.95" font-size="23.58" fill="#1e1e1e" font-weight="normal" text-anchor="middle" textLength="35.51" lengthAdjust="spacingAndGlyphs">8.5</text>
<text x="464.36" y="774.95" font-size="23.58" fill="#1e1e1e" font-weight="normal" text-anchor="middle" textLength="14.26" lengthAdjust="spacingAndGlyphs">9</text>
<text x="596.71" y="777.25" font-size="27.41" fill="#1a3c45" font-weight="normal" text-anchor="middle" textLength="28.5" lengthAdjust="spacingAndGlyphs">43</text>
<text x="739.2" y="775.45" font-size="27.41" fill="#1e1e1e" font-weight="normal" text-anchor="middle" textLength="63.4" lengthAdjust="spacingAndGlyphs">10.99</text>
<text x="863.34" y="774.15" font-size="27.13" fill="#1e1e1e" font-weight="normal" text-anchor="middle" textLength="64.39" lengthAdjust="spacingAndGlyphs">27.92</text>
<text x="995.18" y="777.5" font-size="28.1" fill="#1a3c45" font-weight="normal" text-anchor="middle" textLength="34.15" lengthAdjust="spacingAndGlyphs">4.1</text>
<text x="1122.92" y="777.25" font-size="27.41" fill="#1a3c45" font-weight="normal" text-anchor="middle" textLength="35.95" lengthAdjust="spacingAndGlyphs">9.5</text>
<text x="77.18" y="839.95" font-size="26.14" fill="#1a3c45" font-weight="normal" text-anchor="middle" textLength="78.45" lengthAdjust="spacingAndGlyphs">11/11.5</text>
<text x="204.18" y="839.95" font-size="24.92" fill="#1a3c45" font-weight="normal" text-anchor="middle" textLength="80.34" lengthAdjust="spacingAndGlyphs">13/13.5</text>
<text x="333.29" y="841.45" font-size="25.83" fill="#1e1e1e" font-weight="normal" text-anchor="middle" textLength="29.09" lengthAdjust="spacingAndGlyphs">10</text>
<text x="464.55" y="841.45" font-size="25.83" fill="#1e1e1e" font-weight="normal" text-anchor="middle" textLength="46.09" lengthAdjust="spacingAndGlyphs">10.5</text>
<text x="596.58" y="842.4" font-size="27.83" fill="#1a3c45" font-weight="normal" text-anchor="middle" textLength="28.24" lengthAdjust="spacingAndGlyphs">44</text>
<text x="739.2" y="842.15" font-size="27.13" fill="#1e1e1e" font-weight="normal" text-anchor="middle" textLength="63.39" lengthAdjust="spacingAndGlyphs">11.25</text>
<text x="863.22" y="842.15" font-size="27.13" fill="#1e1e1e" font-weight="normal" text-anchor="middle" textLength="64.14" lengthAdjust="spacingAndGlyphs">28.58</text>
<text x="995.74" y="842.4" font-size="26.11" fill="#1a3c45" font-weight="normal" text-anchor="middle" textLength="35.31" lengthAdjust="spacingAndGlyphs">4.2</text>
<text x="1122.95" y="842.15" font-size="25.76" fill="#1a3c45" font-weight="normal" text-anchor="middle" textLength="35.81" lengthAdjust="spacingAndGlyphs">9.6</text>
<text x="76.71" y="911.7" font-size="26.33" fill="#1a3c45" font-weight="normal" text-anchor="middle" textLength="27.24" lengthAdjust="spacingAndGlyphs">12</text>
<text x="203.22" y="911.7" font-size="26.69" fill="#1a3c45" font-weight="normal" text-anchor="middle" textLength="26.64" lengthAdjust="spacingAndGlyphs">14</text>
<text x="333.4" y="911.7" font-size="26.52" fill="#1e1e1e" font-weight="normal" text-anchor="middle" textLength="25.84" lengthAdjust="spacingAndGlyphs">11</text>
<text x="463.79" y="911.45" font-size="26.17" fill="#1e1e1e" font-weight="normal" text-anchor="middle" textLength="44.59" lengthAdjust="spacingAndGlyphs">11.5</text>
<text x="597.0" y="911.45" font-size="27.38" fill="#1a3c45" font-weight="normal" text-anchor="middle" textLength="28.4" lengthAdjust="spacingAndGlyphs">45</text>
<text x="740.02" y="911.45" font-size="27.75" fill="#1e1e1e" font-weight="normal" text-anchor="middle" textLength="59.15" lengthAdjust="spacingAndGlyphs">11.51</text>
<text x="863.43" y="910.15" font-size="27.81" fill="#1e1e1e" font-weight="normal" text-anchor="middle" textLength="61.01" lengthAdjust="spacingAndGlyphs">29.24</text>
<text x="995.64" y="911.45" font-size="27.41" fill="#1a3c45" font-weight="normal" text-anchor="middle" textLength="35.2" lengthAdjust="spacingAndGlyphs">4.3</text>
<text x="1122.88" y="911.45" font-size="27.41" fill="#1a3c45" font-weight="normal" text-anchor="middle" textLength="33.55" lengthAdjust="spacingAndGlyphs">9.8</text>
<text x="76.68" y="978.95" font-size="25.82" fill="#1a3c45" font-weight="normal" text-anchor="middle" textLength="27.34" lengthAdjust="spacingAndGlyphs">13</text>
<text x="204.55" y="978.95" font-size="26.17" fill="#1a3c45" font-weight="normal" text-anchor="middle" textLength="26.09" lengthAdjust="spacingAndGlyphs">15</text>
<text x="333.42" y="979.2" font-size="26.17" fill="#1e1e1e" font-weight="normal" text-anchor="middle" textLength="25.84" lengthAdjust="spacingAndGlyphs">12</text>
<text x="464.55" y="978.95" font-size="25.83" fill="#1e1e1e" font-weight="normal" text-anchor="middle" textLength="46.09" lengthAdjust="spacingAndGlyphs">12.5</text>
<text x="596.88" y="978.15" font-size="25.76" fill="#1a3c45" font-weight="normal" text-anchor="middle" textLength="28.51" lengthAdjust="spacingAndGlyphs">46</text>
<text x="739.23" y="978.4" font-size="27.83" fill="#1e1e1e" font-weight="normal" text-anchor="middle" textLength="57.59" lengthAdjust="spacingAndGlyphs">11.77</text>
<text x="864.44" y="978.15" font-size="27.13" fill="#1e1e1e" font-weight="normal" text-anchor="middle" textLength="45.99" lengthAdjust="spacingAndGlyphs">29.9</text>
<text x="995.74" y="978.15" font-size="25.76" fill="#1a3c45" font-weight="normal" text-anchor="middle" textLength="35.31" lengthAdjust="spacingAndGlyphs">4.3</text>
<text x="1123.0" y="978.15" font-size="25.76" fill="#1a3c45" font-weight="normal" text-anchor="middle" textLength="33.66" lengthAdjust="spacingAndGlyphs">9.9</text>
<text x="76.42" y="1046.7" font-size="26.52" fill="#1a3c45" font-weight="normal" text-anchor="middle" textLength="26.84" lengthAdjust="spacingAndGlyphs">14</text>
<text x="204.68" y="1046.45" font-size="25.82" fill="#1a3c45" font-weight="normal" text-anchor="middle" textLength="26.34" lengthAdjust="spacingAndGlyphs">16</text>
<text x="333.78" y="1046.45" font-size="25.83" fill="#1e1e1e" font-weight="normal" text-anchor="middle" textLength="44.59" lengthAdjust="spacingAndGlyphs">13.5</text>
<text x="463.06" y="1046.7" font-size="26.52" fill="#1e1e1e" font-weight="normal" text-anchor="middle" textLength="28.59" lengthAdjust="spacingAndGlyphs">14</text>
<text x="596.18" y="1046.4" font-size="28.85" fill="#1a3c45" font-weight="normal" text-anchor="middle" textLength="27.51" lengthAdjust="spacingAndGlyphs">47</text>
<text x="739.3" y="1046.5" font-size="27.13" fill="#1e1e1e" font-weight="normal" text-anchor="middle" textLength="58.56" lengthAdjust="spacingAndGlyphs">12.03</text>
<text x="863.8" y="1046.5" font-size="27.13" fill="#1e1e1e" font-weight="normal" text-anchor="middle" textLength="58.06" lengthAdjust="spacingAndGlyphs">30.56</text>
<text x="995.64" y="1046.15" font-size="28.16" fill="#1a3c45" font-weight="normal" text-anchor="middle" textLength="35.26" lengthAdjust="spacingAndGlyphs">4.3</text>
<text x="1121.18" y="1046.15" font-size="28.16" fill="#1a3c45" font-weight="normal" text-anchor="middle" textLength="44.91" lengthAdjust="spacingAndGlyphs">10.1</text>
<text x="606.62" y="1104.75" font-size="22.8" fill="#1e1e1e" font-weight="normal" text-anchor="middle" textLength="239.87" lengthAdjust="spacingAndGlyphs">Foot Length Measurring</text>
<defs><linearGradient id="footg" x1="0" y1="0" x2="1" y2="0"><stop offset="0" stop-color="#f8ebbd"/><stop offset="1" stop-color="#f4d892"/></linearGradient></defs>
<rect x="255.5" y="1113.5" width="201" height="82" rx="8" ry="8" fill="#e6f5fc" stroke="#676767" stroke-width="2.2"/>
<line x1="296" y1="1120" x2="296" y2="1180" stroke="#8e7f8e" stroke-width="1.4"/>
<path d="M296.5,1170 C297,1166 300,1164 305,1163.5 C311,1163 317,1161.5 325,1158.5 C335,1154.5 347,1150 357,1146 C364,1143 368,1139 369,1132 L400.5,1132 C401,1144 402.5,1151 404.5,1158 C406.5,1166 404,1176 395,1178.5 C388,1179.5 382,1178.5 376,1175.5 C370,1171.5 365,1169 360,1169 C352,1169 347,1173.5 340,1175 C333,1176 328,1175.5 323,1173.5 C319,1171.5 316.5,1170.5 313.5,1171.5 C309,1173.5 305,1175 300.5,1174.5 C297.5,1174 296,1172.5 296.5,1170 Z" fill="url(#footg)" stroke="#4e4526" stroke-width="1.6"/>
<line x1="268" y1="1180.5" x2="448" y2="1180.5" stroke="#5f4b36" stroke-width="2.6"/>
<line x1="408.5" y1="1124" x2="408.5" y2="1180" stroke="#141414" stroke-width="3"/>
<path d="M410.0,1127.5 L421.0,1130.5 M410.0,1132.1 L421.0,1135.1 M410.0,1136.7 L421.0,1139.7 M410.0,1141.3 L421.0,1144.3 M410.0,1145.9 L421.0,1148.9 M410.0,1150.5 L421.0,1153.5 M410.0,1155.1 L421.0,1158.1 M410.0,1159.7 L421.0,1162.7 M410.0,1164.3 L421.0,1167.3 M410.0,1168.9 L421.0,1171.9 M410.0,1173.5 L421.0,1176.5" stroke="#6d757c" stroke-width="1.5" fill="none"/>
<g transform="translate(263.5,1135) rotate(54.3)" opacity="1.0"><rect x="0" y="-2.8" width="9.0" height="5.6" fill="#141414"/><rect x="9.0" y="-2.8" width="34.5" height="5.6" fill="#ec9430" stroke="#a8601a" stroke-width="0.9"/><line x1="9.0" y1="0" x2="43.5" y2="0" stroke="#b86812" stroke-width="1.4"/><path d="M43.5,-2.8 L50.0,-0.9 L50.0,0.9 L43.5,2.8 Z" fill="#f5dcbc" stroke="#c89870" stroke-width="0.6"/><path d="M49.0,-1.2 L52.5,0 L49.0,1.2 Z" fill="#3a2a2a"/></g>
<rect x="506.5" y="1113.5" width="201" height="82" rx="8" ry="8" fill="#e6f5fc" stroke="#676767" stroke-width="2.2"/>
<line x1="550" y1="1120" x2="550" y2="1180" stroke="#c6acb6" stroke-width="2"/>
<path d="M551,1164 C552,1157 558,1149 564,1143.5 C568,1140 572,1138 580,1138 C592,1138.5 605,1141 620,1144.5 C635,1147.5 649,1149 655,1151.5 C661,1154.5 661.5,1160 656,1163.5 C650,1167 640,1168.5 630,1168 C615,1167.5 600,1170.5 585,1171 C572,1171.5 561,1169.5 555,1167.5 C552.5,1166.5 551,1165.5 551,1164 Z" fill="url(#footg)" stroke="#4e4526" stroke-width="1.6"/>
<path d="M575,1140.5 L581,1142 M566,1145 L573.5,1148 M559,1152 L568,1154 M555.5,1158 L561,1159" stroke="#4e4526" stroke-width="1.4" fill="none"/>
<line x1="523" y1="1180.5" x2="701" y2="1180.5" stroke="#5f4b36" stroke-width="2.6"/>
<line x1="662" y1="1123" x2="662" y2="1180" stroke="#141414" stroke-width="3"/>
<path d="M663.5,1126.5 L674.5,1129.5 M663.5,1131.1 L674.5,1134.1 M663.5,1135.7 L674.5,1138.7 M663.5,1140.3 L674.5,1143.3 M663.5,1144.9 L674.5,1147.9 M663.5,1149.5 L674.5,1152.5 M663.5,1154.1 L674.5,1157.1 M663.5,1158.7 L674.5,1161.7 M663.5,1163.3 L674.5,1166.3 M663.5,1167.9 L674.5,1170.9 M663.5,1172.5 L674.5,1175.5" stroke="#6d757c" stroke-width="1.5" fill="none"/>
<g transform="translate(517.5,1120.5) rotate(52)" opacity="1.0"><rect x="0" y="-2.8" width="9.0" height="5.6" fill="#141414"/><rect x="9.0" y="-2.8" width="37.0" height="5.6" fill="#ec9430" stroke="#a8601a" stroke-width="0.9"/><line x1="9.0" y1="0" x2="46.0" y2="0" stroke="#b86812" stroke-width="1.4"/><path d="M46.0,-2.8 L52.5,-0.9 L52.5,0.9 L46.0,2.8 Z" fill="#f5dcbc" stroke="#c89870" stroke-width="0.6"/><path d="M51.5,-1.2 L55,0 L51.5,1.2 Z" fill="#3a2a2a"/></g>
<rect x="757.5" y="1113.5" width="201" height="82" rx="8" ry="8" fill="#e6f5fc" stroke="#676767" stroke-width="2.2"/>
<path d="M820,1138 L925,1138 M785,1157 L925,1157" stroke="#cfdbe2" stroke-width="1" stroke-dasharray="2 3" fill="none"/>
<line x1="773.6" y1="1145" x2="773.6" y2="1167.5" stroke="#7e868c" stroke-width="2"/>
<line x1="772.6" y1="1167.5" x2="929" y2="1167.5" stroke="#565c62" stroke-width="2"/>
<path d="M778.6,1145 L778.6,1151.5 M789.9,1145 L789.9,1151.5 M801.2,1145 L801.2,1151.5 M812.5,1145 L812.5,1151.5 M823.8,1145 L823.8,1151.5 M835.1,1145 L835.1,1151.5 M846.4,1145 L846.4,1151.5 M857.7,1145 L857.7,1151.5 M869.0,1145 L869.0,1151.5 M880.3,1145 L880.3,1151.5 M891.6,1145 L891.6,1151.5 M902.9,1145 L902.9,1151.5 M914.2,1145 L914.2,1151.5 M925.5,1145 L925.5,1151.5" stroke="#50565c" stroke-width="2" fill="none"/>
<line x1="772.6" y1="1145.5" x2="929" y2="1145.5" stroke="#33383d" stroke-width="3"/>
<line x1="807.5" y1="1131" x2="807.5" y2="1188" stroke="#6f777c" stroke-width="2"/>
<g transform="translate(781.5,1123) rotate(52)" opacity="0.9"><rect x="0" y="-2.52" width="8.1" height="5.04" fill="#141414"/><rect x="8.1" y="-2.52" width="24.799999999999997" height="5.04" fill="#ec9430" stroke="#a8601a" stroke-width="0.9"/><line x1="8.1" y1="0" x2="32.9" y2="0" stroke="#b86812" stroke-width="1.4"/><path d="M32.9,-2.52 L38.5,-0.9 L38.5,0.9 L32.9,2.52 Z" fill="#f5dcbc" stroke="#c89870" stroke-width="0.6"/><path d="M37.5,-1.2 L41,0 L37.5,1.2 Z" fill="#3a2a2a"/></g>
<line x1="775" y1="1178" x2="792" y2="1168.5" stroke="#7d1020" stroke-width="4.5" stroke-linecap="round"/>
<path d="M803.5,1161 L787.5,1166 L793.5,1173.5 Z" fill="#7d1020"/>
<line x1="931.2" y1="1123" x2="931.2" y2="1182" stroke="#141414" stroke-width="3"/>
<path d="M932.7,1126.5 L943.7,1129.5 M932.7,1131.1 L943.7,1134.1 M932.7,1135.7 L943.7,1138.7 M932.7,1140.3 L943.7,1143.3 M932.7,1144.9 L943.7,1147.9 M932.7,1149.5 L943.7,1152.5 M932.7,1154.1 L943.7,1157.1 M932.7,1158.7 L943.7,1161.7 M932.7,1163.3 L943.7,1166.3 M932.7,1167.9 L943.7,1170.9 M932.7,1172.5 L943.7,1175.5 M932.7,1177.1 L943.7,1180.1" stroke="#6d757c" stroke-width="1.5" fill="none"/>
</svg>
</body></html>
